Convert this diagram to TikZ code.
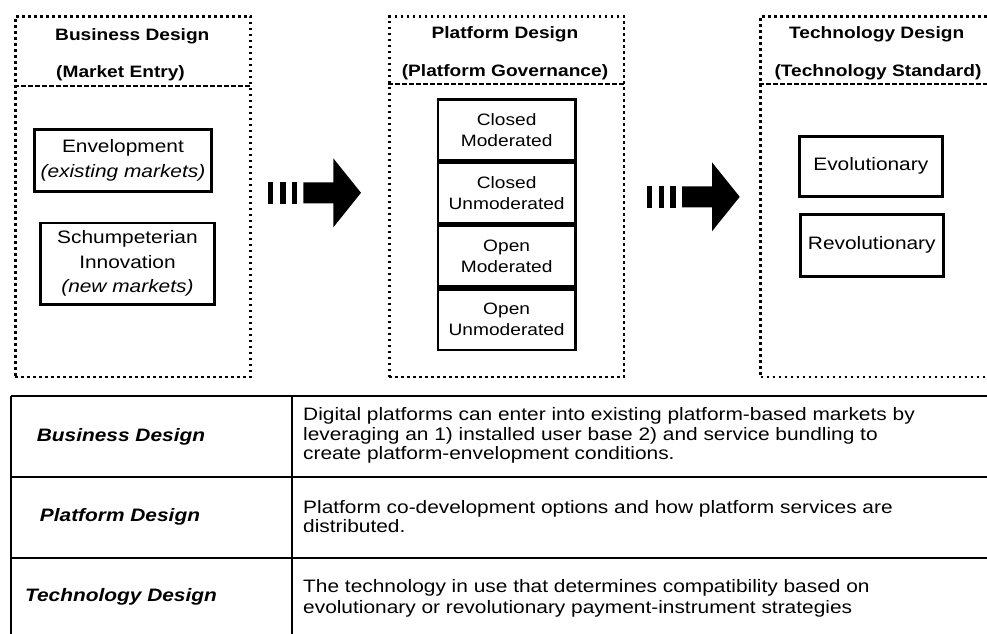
\documentclass[tikz,border=0pt]{standalone}
\usepackage{fontspec}
\setmainfont{Liberation Sans}[FakeStretch=1.16]
\usetikzlibrary{calc}
\begin{document}
\begin{tikzpicture}[x=1pt,y=-1pt,
 frame/.style={draw, line width=2.6pt, dash pattern=on 2.6pt off 3.4pt, anchor=north west, inner sep=0},
 divider/.style={line width=1.2pt, dash pattern=on 4.5pt off 2.5pt},
 ibox/.style={draw, line width=2.6pt, anchor=north west, align=center, inner sep=0, font=\fontsize{18}{24.5}\selectfont},
 cell/.style={draw, line width=2.6pt, anchor=north west, align=center, inner sep=0, minimum width=137.3pt, minimum height=60.75pt, font=\fontsize{16.5}{21}\selectfont},
 ttl/.style={font=\bfseries\fontsize{16.5}{20}\selectfont, inner sep=0, anchor=base},
 lbl/.style={font=\bfseries\itshape\fontsize{18}{20}\selectfont, inner sep=0, anchor=base},
 desc/.style={font=\fontsize{18}{19.7}\selectfont, inner sep=0, anchor=north west, align=left},
 tline/.style={line width=1.6pt},
 blockarrow/.pic={
   \fill (0,-10.8) rectangle (5,10.8);
   \fill (11.7,-10.8) rectangle (17.4,10.8);
   \fill (23.4,-10.8) rectangle (29,10.8);
   \fill (35,-10.5) -- (65,-10.5) -- (65,-34.5) -- (92.7,0) -- (65,34.5) -- (65,10.5) -- (35,10.5) -- cycle;
 }]
\useasboundingbox (0,0) rectangle (987,633);
\fill[white] (0,0) rectangle (987,633);

% frames
\node[frame, minimum width=235.4pt, minimum height=360.4pt] (bframe) at (14,15.3) {};
\node[frame, minimum width=234.7pt, minimum height=360.4pt] (pframe) at (388,15.3) {};
\node[frame, minimum width=260pt, minimum height=360.4pt] (tframe) at (759.3,15.3) {};
\draw[divider] ($(bframe.north west)+(0,70.7)$) -- ($(bframe.north east)+(0,70.7)$);
\draw[divider] ($(pframe.north west)+(0,68.7)$) -- ($(pframe.north east)+(0,68.7)$);
\draw[divider] ($(tframe.north west)+(0,68.7)$) -- ($(tframe.north east)+(0,68.7)$);

% titles
\node[ttl, anchor=base west] (bt1) at (55,40) {Business Design};
\node[ttl, anchor=base west] (bt2) at (56,77) {(Market Entry)};
\node[ttl] (pt1) at (505,38.3) {Platform Design};
\node[ttl] (pt2) at (505,76) {(Platform Governance)};
\node[ttl] (tt1) at (876.7,38.3) {Technology Design};
\node[ttl] (tt2) at (878,76) {(Technology Standard)};

% business boxes
\node[ibox, minimum width=176.7pt, minimum height=61.7pt] (env) at (33.3,128.3) {Envelopment\\\textit{(existing markets)}};
\node[ibox, minimum width=174.3pt, minimum height=81.6pt] (sch) at (39,221.7) {Schumpeterian\\Innovation\\\textit{(new markets)}};

% platform stack
\node[cell] (c1) at (436.7,98) {Closed\\Moderated};
\node[cell] (c2) at (c1.south west) {Closed\\Unmoderated};
\node[cell] (c3) at (c2.south west) {Open\\Moderated};
\node[cell] (c4) at (c3.south west) {Open\\Unmoderated};

% technology boxes
\node[ibox, minimum width=143pt, minimum height=60pt] (evo) at (798,135) {Evolutionary};
\node[ibox, minimum width=143pt, minimum height=62pt] (rev) at (799,213) {Revolutionary};

% block arrows
\pic at (268.3,192.8) {blockarrow};
\pic at (647,196.8) {blockarrow};

% table
\coordinate (tl) at (11,396);
\coordinate (cm) at (292,396);
\draw[tline] (tl) -- (995,396);
\draw[tline] (11,477) -- (995,477);
\draw[tline] (11,558) -- (995,558);
\draw[tline] (tl) -- (11,640);
\draw[tline] (cm) -- (292,640);

\node[lbl] (l1) at (121,441.5) {Business Design};
\node[lbl] (l2) at (120,521.7) {Platform Design};
\node[lbl] (l3) at (121,601.7) {Technology Design};

\node[desc] (d1) at (303,407.2) {Digital platforms can enter into existing platform-based markets by\\leveraging an 1) installed user base 2) and service bundling to\\create platform-envelopment conditions.};
\node[desc] (d2) at (303,500) {Platform co-development options and how platform services are\\distributed.};
\node[desc, font=\fontsize{18}{21}\selectfont] (d3) at (303,579.3) {The technology in use that determines compatibility based on\\evolutionary or revolutionary payment-instrument strategies};
\end{tikzpicture}
\end{document}
